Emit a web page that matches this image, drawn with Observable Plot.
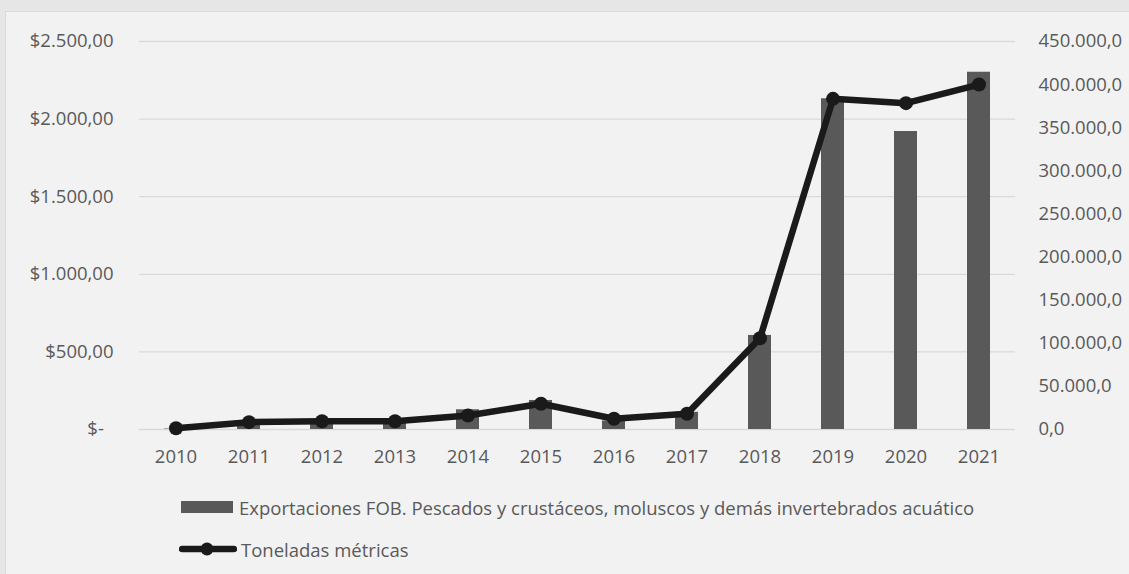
<!DOCTYPE html>
<html><head><meta charset="utf-8">
<script src="https://cdn.jsdelivr.net/npm/d3@7"></script>
<script src="https://cdn.jsdelivr.net/npm/@observablehq/plot@0.6"></script>
<style>
html,body{margin:0;padding:0;background:#e6e6e6;}
#wrap{position:relative;width:1129px;height:574px;overflow:hidden;background:#e6e6e6;font-family:"Open Sans",sans-serif;}
#panel{position:absolute;left:5px;top:11px;width:1130px;height:580px;background:#f2f2f2;border:1px solid #d9d9d9;}
#chart{position:absolute;left:0;top:0;}
.leg{position:absolute;height:26px;font-size:18.5px;color:#595959;display:flex;align-items:center;white-space:nowrap;}
</style></head>
<body>
<div id="wrap"><div id="panel">
<div id="chart"></div>
<div class="leg" style="left:175px;top:482px;"><span style="display:inline-block;width:52px;height:12px;background:#595959;margin-right:6px;"></span><span id="leg1"></span></div>
<div class="leg" style="left:173px;top:524px;"><svg width="58" height="16" style="margin-right:4px"><line x1="3" y1="8" x2="55" y2="8" stroke="#1a1a1a" stroke-width="6.5" stroke-linecap="round"/><circle cx="28" cy="8" r="6.5" fill="#1a1a1a"/></svg><span id="leg2"></span></div>
</div></div>
<script>
const years = ["2010","2011","2012","2013","2014","2015","2016","2017","2018","2019","2020","2021"];
const exportsFOB = [3, 45, 50, 48, 127, 187, 55, 111, 606, 2131, 1920, 2302];
const tonnes = [1500, 8500, 9600, 9600, 16200, 29800, 12400, 18200, 105900, 383500, 378500, 400100];
const dollarTicks = [0, 500, 1000, 1500, 2000, 2500];
const tonTicks = [0, 50000, 100000, 150000, 200000, 250000, 300000, 350000, 400000, 450000];
const seriesNames = ["Exportaciones FOB. Pescados y crustáceos, moluscos y demás invertebrados acuático", "Toneladas métricas"];

document.getElementById("leg1").textContent = seriesNames[0];
document.getElementById("leg2").textContent = seriesNames[1];

const k = 2500 / 450000;
const loc = d3.formatLocale({decimal: ",", thousands: ".", grouping: [3], currency: ["$", ""]});
const fmtL = d => d === 0 ? "$-\u00a0\u00a0" : loc.format("$,.2f")(d);
const fmtR = d => loc.format(",.1f")(Math.round(d / k));

const data = years.map((year, i) => ({year, fob: exportsFOB[i], ton: tonnes[i] * k}));

const chart = Plot.plot({
  width: 1123, height: 470,
  marginLeft: 133, marginRight: 114, marginTop: 29, marginBottom: 53,
  style: {background: "transparent", fontFamily: "'Open Sans', sans-serif", fontSize: "18.5px", color: "#595959"},
  x: {domain: years, paddingInner: 0.685, paddingOuter: 0.3425, align: 0.5},
  y: {domain: [0, 2500]},
  marks: [
    Plot.gridY(dollarTicks, {stroke: "#d9d9d9", strokeOpacity: 1, strokeWidth: 1.3}),
    Plot.axisY(dollarTicks, {anchor: "left", tickSize: 0, tickPadding: 26, tickFormat: fmtL, label: null, fill: "#595959"}),
    Plot.axisY(tonTicks.map(t => t * k), {anchor: "right", tickSize: 0, tickPadding: 23, tickFormat: fmtR, label: null, fill: "#595959"}),
    Plot.axisX({tickSize: 0, tickPadding: 20, label: null, fill: "#595959"}),
    Plot.barY(data, {x: "year", y: "fob", fill: "#595959"}),
    Plot.line(data, {x: "year", y: "ton", stroke: "#1a1a1a", strokeWidth: 6.5, strokeLinejoin: "round", strokeLinecap: "round"}),
    Plot.dot(data, {x: "year", y: "ton", r: 7, fill: "#1a1a1a", stroke: "none"})
  ]
});
document.getElementById("chart").appendChild(chart);
</script>
</body></html>
